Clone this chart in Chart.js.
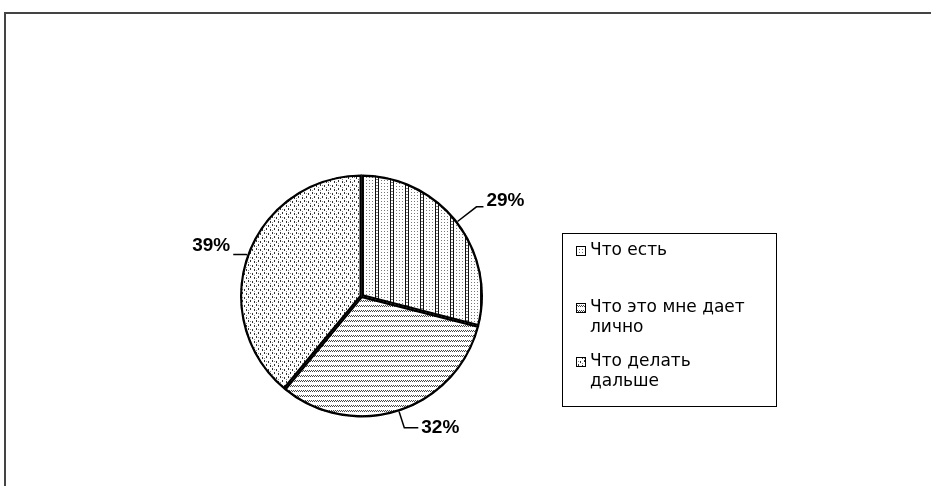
<!DOCTYPE html>
<html>
<head>
<meta charset="utf-8">
<script src="https://cdn.jsdelivr.net/npm/chart.js"></script>
<style>
  html, body { margin: 0; padding: 0; background: #fff; overflow: hidden; }
  canvas { display: block; }
</style>
</head>
<body>
<canvas id="chart" width="931" height="486"></canvas>
<script>
const categories = ["Что есть", "Что это мне дает лично", "Что делать дальше"];
const shares = [29, 32, 39];
const percentLabels = ["29%", "32%", "39%"];

// leader line look: radial stub, horizontal run, text nudge
const leaderExt = [24, 17, 1];
const leaderRun = [7, 14, 13];
const labelDy = [-6, 0, -9];

// legend rows (y of first line of each entry)
const legendRowY = [251, 308, 362];

const canvas = document.getElementById("chart");
const ctx = canvas.getContext("2d");

function makePattern(w, h, draw) {
  const c = document.createElement("canvas");
  c.width = w;
  c.height = h;
  const g = c.getContext("2d");
  g.fillStyle = "#fff";
  g.fillRect(0, 0, w, h);
  draw(g);
  return ctx.createPattern(c, "repeat");
}

// vertical line pairs with grey dots
const stripes = makePattern(15, 6, (g) => {
  g.fillStyle = "#111";
  g.fillRect(0, 0, 1, 6);
  g.fillRect(3, 0, 1, 6);
  g.fillStyle = "#777";
  [6, 9, 12].forEach((x) => {
    g.fillRect(x, 0, 1, 1);
    g.fillRect(x, 3, 1, 1);
  });
  g.fillRect(1, 2, 2, 1);
  g.fillRect(1, 5, 2, 1);
});

// rows of little dashes
const dashes = makePattern(8, 5, (g) => {
  g.fillStyle = "#444";
  [1, 3, 5, 7].forEach((x) => g.fillRect(x, 0, 1, 1));
  [0, 2, 4, 6].forEach((x) => g.fillRect(x, 1, 1, 1));
});

// sparse dots
const dots = makePattern(8, 8, (g) => {
  g.fillStyle = "#333";
  g.fillRect(0, 0, 1, 2);
  g.fillRect(4, 1, 1, 2);
  g.fillRect(2, 4, 1, 2);
  g.fillRect(6, 5, 1, 2);
  g.fillStyle = "#888";
  g.fillRect(2, 1, 1, 1);
  g.fillRect(6, 3, 1, 1);
  g.fillRect(0, 6, 1, 1);
});

const fills = [stripes, dashes, dots];

const decorPlugin = {
  id: "decor",
  beforeDraw(chart) {
    // outer frame, only top and left edges are on screen
    const c = chart.ctx;
    c.save();
    c.strokeStyle = "#444";
    c.lineWidth = 2;
    c.beginPath();
    c.moveTo(5, chart.height + 5);
    c.lineTo(5, 13);
    c.lineTo(chart.width + 5, 13);
    c.stroke();
    c.restore();
  },
  afterDraw(chart) {
    const c = chart.ctx;
    const meta = chart.getDatasetMeta(0);
    c.save();

    // percentage labels with leader lines
    c.font = "bold 19px 'Liberation Sans', Arial, sans-serif";
    c.fillStyle = "#000";
    c.strokeStyle = "#000";
    c.lineWidth = 1.5;
    meta.data.forEach((arc, i) => {
      const p = arc.getProps(["x", "y", "startAngle", "endAngle", "outerRadius"], true);
      const mid = (p.startAngle + p.endAngle) / 2;
      const cos = Math.cos(mid), sin = Math.sin(mid);
      const ex = p.x + p.outerRadius * cos, ey = p.y + p.outerRadius * sin;
      const r2 = p.outerRadius + leaderExt[i];
      const bx = p.x + r2 * cos, by = p.y + r2 * sin;
      const dir = cos >= 0 ? 1 : -1;
      const hx = bx + dir * leaderRun[i];
      c.beginPath();
      c.moveTo(ex, ey);
      c.lineTo(bx, by);
      c.lineTo(hx, by);
      c.stroke();
      c.textAlign = dir > 0 ? "left" : "right";
      c.textBaseline = "middle";
      c.fillText(percentLabels[i], hx + dir * 3, by + labelDy[i]);
    });

    // legend box
    c.lineWidth = 1;
    c.strokeStyle = "#000";
    c.strokeRect(562.5, 233.5, 214, 173);
    c.font = "17px 'DejaVu Sans', sans-serif";
    c.textAlign = "left";
    c.textBaseline = "middle";
    const maxW = 170;
    categories.forEach((name, i) => {
      const y0 = legendRowY[i];
      const words = name.split(" ");
      const lines = [];
      let cur = "";
      words.forEach((w) => {
        const t = cur ? cur + " " + w : w;
        if (c.measureText(t).width > maxW && cur) {
          lines.push(cur);
          cur = w;
        } else cur = t;
      });
      lines.push(cur);
      c.fillStyle = fills[i];
      c.fillRect(577, y0 - 4, 8, 8);
      c.strokeRect(576.5, y0 - 4.5, 9, 9);
      c.fillStyle = "#000";
      lines.forEach((ln, j) => c.fillText(ln, 590, y0 + j * 20));
    });
    c.restore();
  }
};

new Chart(canvas, {
  type: "pie",
  data: {
    labels: categories,
    datasets: [
      {
        data: shares,
        backgroundColor: fills,
        borderColor: "#000",
        borderWidth: 2,
        borderAlign: "inner"
      }
    ]
  },
  options: {
    responsive: false,
    animation: false,
    layout: {
      padding: { left: 240, right: 448, top: 174, bottom: 68 }
    },
    plugins: {
      legend: { display: false },
      tooltip: { enabled: false }
    }
  },
  plugins: [decorPlugin]
});
</script>
</body>
</html>
